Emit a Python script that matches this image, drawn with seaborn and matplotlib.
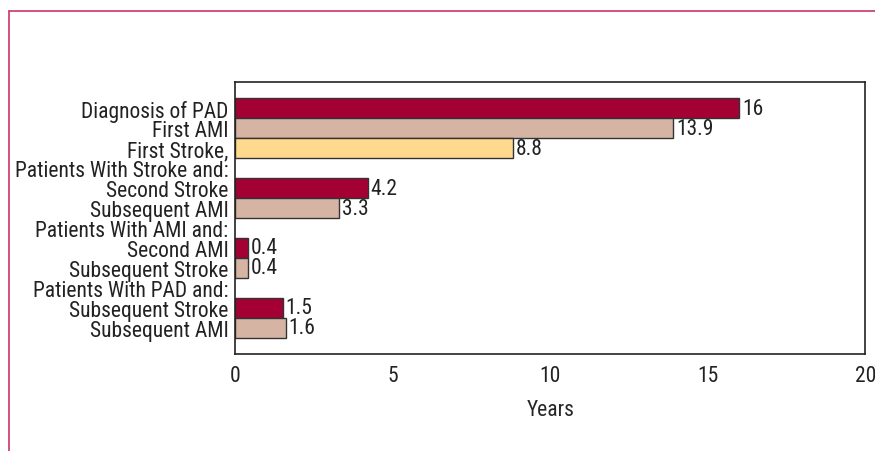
import numpy as np
import pandas as pd
import matplotlib
matplotlib.use("Agg")
import matplotlib.pyplot as plt
from matplotlib.lines import Line2D
import seaborn as sns

# ---- data ----
slot_keys = ["pad", "ami", "stroke", "g_stroke", "s_stroke2", "s_ami",
             "g_ami", "a_ami2", "a_stroke", "g_pad", "p_stroke", "p_ami"]
slot_labels = ["Diagnosis of PAD", "First AMI", "First Stroke,",
               "Patients With Stroke and:", "Second Stroke", "Subsequent AMI",
               "Patients With AMI and:", "Second AMI", "Subsequent Stroke",
               "Patients With PAD and:", "Subsequent Stroke", "Subsequent AMI"]
bar_keys = ["pad", "ami", "stroke", "s_stroke2", "s_ami",
            "a_ami2", "a_stroke", "p_stroke", "p_ami"]
bar_values = [16, 13.9, 8.8, 4.2, 3.3, 0.4, 0.4, 1.5, 1.6]
bar_kind = ["red", "tan", "yellow", "red", "tan", "red", "tan", "red", "tan"]
x_ticks = [0, 5, 10, 15, 20]
x_label = "Years"

kind_colors = {"red": "#A50034", "tan": "#D5B4A3", "yellow": "#FED98E"}

df = pd.DataFrame({"key": bar_keys, "value": bar_values, "kind": bar_kind})

sns.set_theme(style="white")
plt.rcParams["font.family"] = ["Roboto Condensed", "DejaVu Sans"]
plt.rcParams["text.color"] = "#222222"
plt.rcParams["xtick.color"] = "#222222"
plt.rcParams["ytick.color"] = "#222222"

FS = 15.5

fig = plt.figure(figsize=(8.75, 4.52), dpi=100)
ax = fig.add_axes([0.2691, 0.2146, 0.72, 0.6018])

palette = {k: kind_colors[c] for k, c in zip(bar_keys, bar_kind)}
sns.barplot(data=df, y="key", x="value", hue="key", order=slot_keys,
            hue_order=bar_keys, palette=palette, legend=False, orient="h",
            width=1.0, edgecolor="#333333", linewidth=1.0, saturation=1.0,
            ax=ax)

for cont in ax.containers:
    ax.bar_label(cont, fmt=lambda v: "" if np.isnan(v) else f"{v:g}",
                 padding=2, fontsize=FS, color="#222222")

y_lo, y_hi = 12.32, -1.32
ax.set_xlim(0, 20)
ax.set_ylim(y_lo, y_hi)
ax.set_xticks(x_ticks)
ax.set_xticklabels([str(t) for t in x_ticks], fontsize=FS)
ax.set_yticks(range(len(slot_labels)))
ax.set_yticklabels(slot_labels, fontsize=FS)
ax.set_ylabel("")
ax.set_xlabel(x_label, fontsize=FS, labelpad=9)

ax.tick_params(axis="y", which="major", length=0, pad=5)
ax.tick_params(axis="x", which="major", length=4, width=1.2, direction="out",
               pad=4, color="#222222")
ax.set_yticks([y_lo, y_hi], minor=True)
ax.tick_params(axis="y", which="minor", length=5, width=1.2, direction="out",
               color="#222222")

for s in ax.spines.values():
    s.set_visible(True)
    s.set_color("#222222")
    s.set_linewidth(1.2)

# outer frame (pink-crimson), open to right and bottom
frame_col = "#CF4470"
fig.add_artist(Line2D([8.5 / 875, 8.5 / 875], [0, 1 - 11.5 / 452],
                      transform=fig.transFigure, color=frame_col, lw=1.3))
fig.add_artist(Line2D([8.5 / 875, 1], [1 - 11.5 / 452, 1 - 11.5 / 452],
                      transform=fig.transFigure, color=frame_col, lw=1.3))

fig.savefig("out.png", dpi=100)
